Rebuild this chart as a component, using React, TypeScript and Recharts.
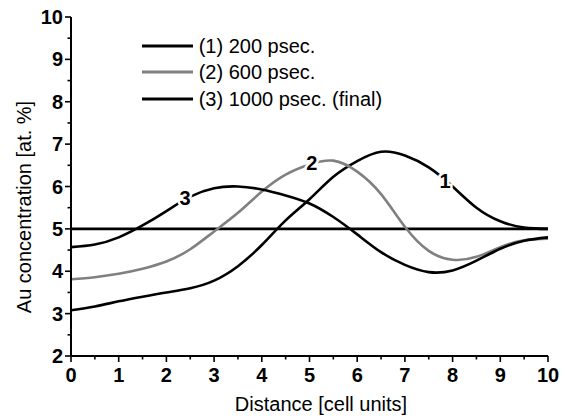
import { LineChart, Line, XAxis, YAxis, ReferenceLine, ReferenceDot, Legend } from "recharts";

// Au concentration profiles along the cell
const distance = [0, 0.5, 1, 1.5, 2, 2.5, 3, 3.5, 4, 4.5, 5, 5.5, 6, 6.5, 7, 7.5, 8, 8.5, 9, 9.5, 10];
const conc200 = [3.08, 3.17, 3.29, 3.4, 3.5, 3.6, 3.78, 4.12, 4.62, 5.2, 5.7, 6.23, 6.6, 6.82, 6.73, 6.45, 6.0, 5.5, 5.18, 5.03, 5.0];
const conc600 = [3.81, 3.86, 3.94, 4.06, 4.23, 4.52, 4.94, 5.38, 5.88, 6.28, 6.52, 6.61, 6.35, 5.82, 5.05, 4.48, 4.27, 4.34, 4.57, 4.73, 4.77];
const conc1000 = [4.57, 4.63, 4.8, 5.08, 5.42, 5.76, 5.96, 6.0, 5.93, 5.79, 5.6, 5.28, 4.87, 4.45, 4.15, 3.98, 4.02, 4.25, 4.53, 4.72, 4.8];
const baseLevel = 5;

const seriesNames = ["(1) 200 psec.", "(2) 600 psec.", "(3) 1000 psec. (final)"];
const seriesColors = ["#000000", "#808080", "#000000"];

const xTicks = [0, 0.5, 1, 1.5, 2, 2.5, 3, 3.5, 4, 4.5, 5, 5.5, 6, 6.5, 7, 7.5, 8, 8.5, 9, 9.5, 10];
const yTicks = [2, 2.5, 3, 3.5, 4, 4.5, 5, 5.5, 6, 6.5, 7, 7.5, 8, 8.5, 9, 9.5, 10];

// little numbers sitting on the curves
const curveTags = [
  { tag: "1", x: 7.84, y: 6.12 },
  { tag: "2", x: 5.05, y: 6.55 },
  { tag: "3", x: 2.39, y: 5.73 },
];

const chartData = distance.map((d, i) => ({
  distance: d,
  c200: conc200[i],
  c600: conc600[i],
  c1000: conc1000[i],
}));

const FONT = "'Liberation Sans', Arial, sans-serif";

const XTick = (props: any) => {
  const { x, y, payload } = props;
  const major = Number.isInteger(payload.value);
  return (
    <g>
      <line x1={x} x2={x} y1={y} y2={y + (major ? 6 : 3.5)} stroke="#000" strokeWidth={1.6} />
      {major && (
        <text x={x} y={y + 26} textAnchor="middle" fontWeight="bold" fontSize={20} fontFamily={FONT} fill="#000">
          {payload.value}
        </text>
      )}
    </g>
  );
};

const YTick = (props: any) => {
  const { x, y, payload } = props;
  const major = Number.isInteger(payload.value);
  return (
    <g>
      <line x1={x} x2={x - (major ? 6 : 3.5)} y1={y} y2={y} stroke="#000" strokeWidth={1.6} />
      {major && (
        <text x={x - 8} y={y + 7} textAnchor="end" fontWeight="bold" fontSize={20} fontFamily={FONT} fill="#000">
          {payload.value}
        </text>
      )}
    </g>
  );
};

const LegendBox = (props: any) => {
  const items = props.payload || [];
  return (
    <div style={{ fontFamily: FONT, fontSize: 20, color: "#000" }}>
      {items.map((it: any) => (
        <div key={it.value} style={{ display: "flex", alignItems: "center", height: 26.7 }}>
          <svg width={51} height={6} style={{ marginRight: 6 }}>
            <line x1={0} x2={51} y1={3} y2={3} stroke={it.color} strokeWidth={2.8} />
          </svg>
          <span style={{ lineHeight: "20px" }}>{it.value}</span>
        </div>
      ))}
    </div>
  );
};

export default function App() {
  return (
    <div style={{ position: "absolute", left: 0, top: 0, width: 571, height: 416, background: "#fff" }}>
      <LineChart width={571} height={416} data={chartData} margin={{ top: 17, right: 23, left: 0, bottom: 0 }}>
        <XAxis
          dataKey="distance"
          type="number"
          domain={[0, 10]}
          ticks={xTicks}
          interval={0}
          tick={<XTick />}
          tickLine={false}
          tickSize={0}
          tickMargin={0}
          height={60}
          axisLine={{ stroke: "#000", strokeWidth: 2 }}
        />
        <YAxis
          type="number"
          domain={[2, 10]}
          ticks={yTicks}
          interval={0}
          tick={<YTick />}
          tickLine={false}
          tickSize={0}
          tickMargin={0}
          width={71}
          axisLine={{ stroke: "#000", strokeWidth: 2 }}
        />
        <Legend
          layout="vertical"
          align="center"
          verticalAlign="middle"
          content={<LegendBox />}
          wrapperStyle={{ left: 141.7, top: 32.4, width: "auto" }}
        />
        <ReferenceLine y={baseLevel} stroke="#000" strokeWidth={2.6} />
        <Line dataKey="c200" name={seriesNames[0]} type="natural" stroke={seriesColors[0]} strokeWidth={2.6} dot={false} isAnimationActive={false} />
        <Line dataKey="c600" name={seriesNames[1]} type="natural" stroke={seriesColors[1]} strokeWidth={2.6} dot={false} isAnimationActive={false} />
        <Line dataKey="c1000" name={seriesNames[2]} type="natural" stroke={seriesColors[2]} strokeWidth={2.6} dot={false} isAnimationActive={false} />
        {curveTags.map((t) => (
          <ReferenceDot
            key={t.tag}
            x={t.x}
            y={t.y}
            r={0}
            shape={(p: any) => (
              <text
                x={p.cx}
                y={p.cy + 7}
                textAnchor="middle"
                fontWeight="bold"
                fontSize={20}
                fontFamily={FONT}
                fill="#000"
                stroke="#fff"
                strokeWidth={5}
                paintOrder="stroke"
              >
                {t.tag}
              </text>
            )}
          />
        ))}
        <text x={321} y={411} textAnchor="middle" fontSize={20} fontFamily={FONT} fill="#000">
          Distance [cell units]
        </text>
        <text x={31} y={207} textAnchor="middle" fontSize={20} fontFamily={FONT} fill="#000" transform="rotate(-90 31 207)">
          Au concentration [at. %]
        </text>
      </LineChart>
    </div>
  );
}
